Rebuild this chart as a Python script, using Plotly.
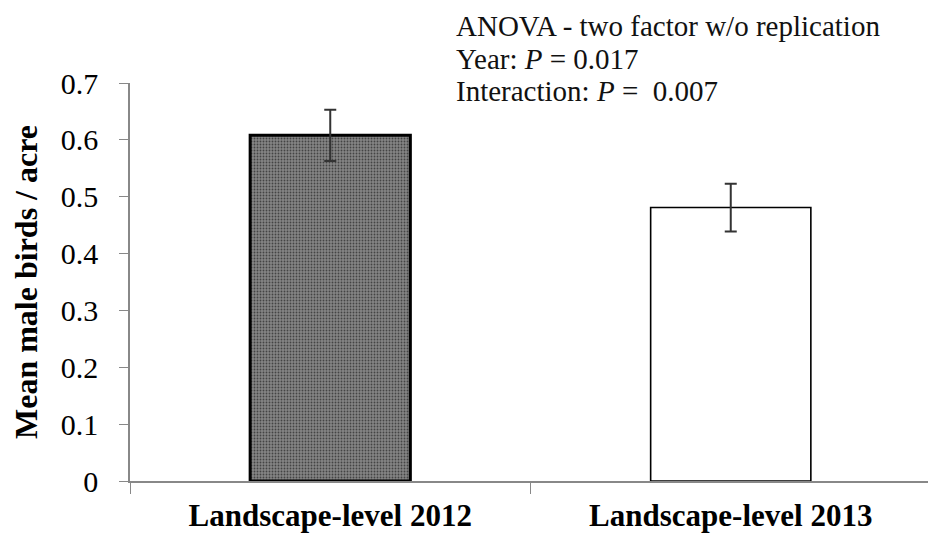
import plotly.graph_objects as go

categories = ["Landscape-level 2012", "Landscape-level 2013"]
means = [0.608, 0.481]
errors = [0.045, 0.042]
y_ticks = [0, 0.1, 0.2, 0.3, 0.4, 0.5, 0.6, 0.7]
y_tick_labels = ["0", "0.1", "0.2", "0.3", "0.4", "0.5", "0.6", "0.7"]
stats_lines = [
    "ANOVA - two factor w/o replication",
    "Year: <i>P</i> = 0.017",
    "Interaction: <i>P</i> =\u00a0 0.007",
]

FONT = "Liberation Serif"

fig = go.Figure()
fig.add_trace(go.Bar(
    x=categories,
    y=means,
    width=0.4,
    marker=dict(
        color=["#858585", "#ffffff"],
        line=dict(color="#000000", width=[3, 1.6]),
        pattern=dict(shape=[".", ""], fgcolor="#454545",
                     size=3, solidity=0.3, fillmode="overlay", fgopacity=1),
    ),
    error_y=dict(type="data", array=errors, visible=True,
                 color="#333333", thickness=2, width=6),
    showlegend=False,
))

ann_y = [1.143, 1.061, 0.979]
for txt, yy in zip(stats_lines, ann_y):
    fig.add_annotation(text=txt, xref="paper", yref="paper", x=0.405, y=yy,
                       xanchor="left", yanchor="middle", showarrow=False,
                       font=dict(family=FONT, size=29, color="#111111"))

fig.update_layout(
    width=936, height=535,
    margin=dict(l=122, r=13, t=75, b=62),
    paper_bgcolor="white", plot_bgcolor="white",
    font=dict(family=FONT, color="#000000"),
)
fig.update_xaxes(
    automargin=False,
    showline=True, linecolor="#888888", linewidth=1.5,
    ticks="outside", tickson="boundaries", ticklen=11, tickcolor="#888888",
    tickfont=dict(family=FONT, size=31, color="#000000", weight="bold"),
    ticklabelstandoff=6,
    showgrid=False,
)
fig.update_yaxes(
    automargin=False,
    range=[0, 0.7], tickvals=y_ticks, ticktext=y_tick_labels,
    showline=True, linecolor="#888888", linewidth=1.5,
    ticks="outside", ticklen=9, tickcolor="#888888",
    tickfont=dict(family=FONT, size=30, color="#000000"),
    ticklabelstandoff=15,
    showgrid=False, zeroline=False,
    title=dict(text="<b>Mean male birds / acre</b>", standoff=14,
               font=dict(family=FONT, size=32, color="#000000")),
)

fig.write_html("out.html")
